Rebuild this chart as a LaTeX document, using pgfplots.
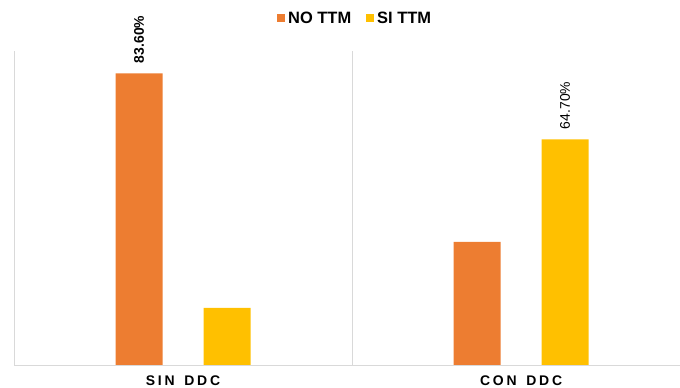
\documentclass[border=0pt]{standalone}
\usepackage{pgfplots}
\pgfplotsset{compat=1.18}
\usepackage{fontspec}
\setmainfont{Liberation Sans}
\definecolor{cOrange}{HTML}{ED7D31}
\definecolor{cYellow}{HTML}{FFC000}
\definecolor{cGrid}{HTML}{D9D9D9}
\begin{document}
\begin{tikzpicture}
\useasboundingbox (0,0) rectangle (680bp,388bp);
\begin{axis}[
  at={(14bp,23bp)}, anchor=south west,
  scale only axis, width=666bp, height=314bp,
  xmin=-0.5, xmax=1.470, ymin=0, ymax=90,
  hide y axis,
  axis x line*=bottom,
  x axis line style={-, draw=cGrid, line width=1bp},
  xtick={0,1}, xticklabels={SIN\hspace{3bp} DDC, CON\hspace{3bp} DDC},
  major tick length=0pt,
  extra x ticks={-0.5,0.5}, extra x tick labels={},
  extra x tick style={grid=major, major grid style={draw=cGrid, line width=1bp}},
  xticklabel style={font=\fontsize{14}{14}\selectfont\bfseries\addfontfeatures{LetterSpace=20}, yshift=-7bp},
  bar width=47bp,
  point meta=explicit symbolic,
  nodes near coords,
  legend style={at={(0.513,1.105)}, anchor=center, draw=none, fill=none,
    legend columns=2, font=\fontsize{16.5}{16}\selectfont\bfseries,
    nodes={inner xsep=3bp, inner ysep=0bp},
    /tikz/every even column/.append style={column sep=12bp}},
  legend image code/.code={\path[#1, draw=none] (0bp,-4bp) rectangle (8bp,4bp);},
]
\addplot[ybar, bar shift=-44bp, fill=cOrange, draw=none,
  nodes near coords style={xshift=-44bp, rotate=90, anchor=west, inner xsep=10bp, inner ysep=0bp, text=black, font=\fontsize{14}{14}\selectfont\bfseries}]
  coordinates {(0,83.6) [83.60\%] (1,35.3) []};
\addlegendentry{NO TTM}
\addplot[ybar, bar shift=44bp, fill=cYellow, draw=none,
  nodes near coords style={xshift=44bp, rotate=90, anchor=west, inner xsep=10bp, inner ysep=0bp, text=black, font=\fontsize{14}{14}\selectfont}]
  coordinates {(0,16.4) [] (1,64.7) [64.70\%]};
\addlegendentry{SI TTM}
\end{axis}
\end{tikzpicture}
\end{document}
